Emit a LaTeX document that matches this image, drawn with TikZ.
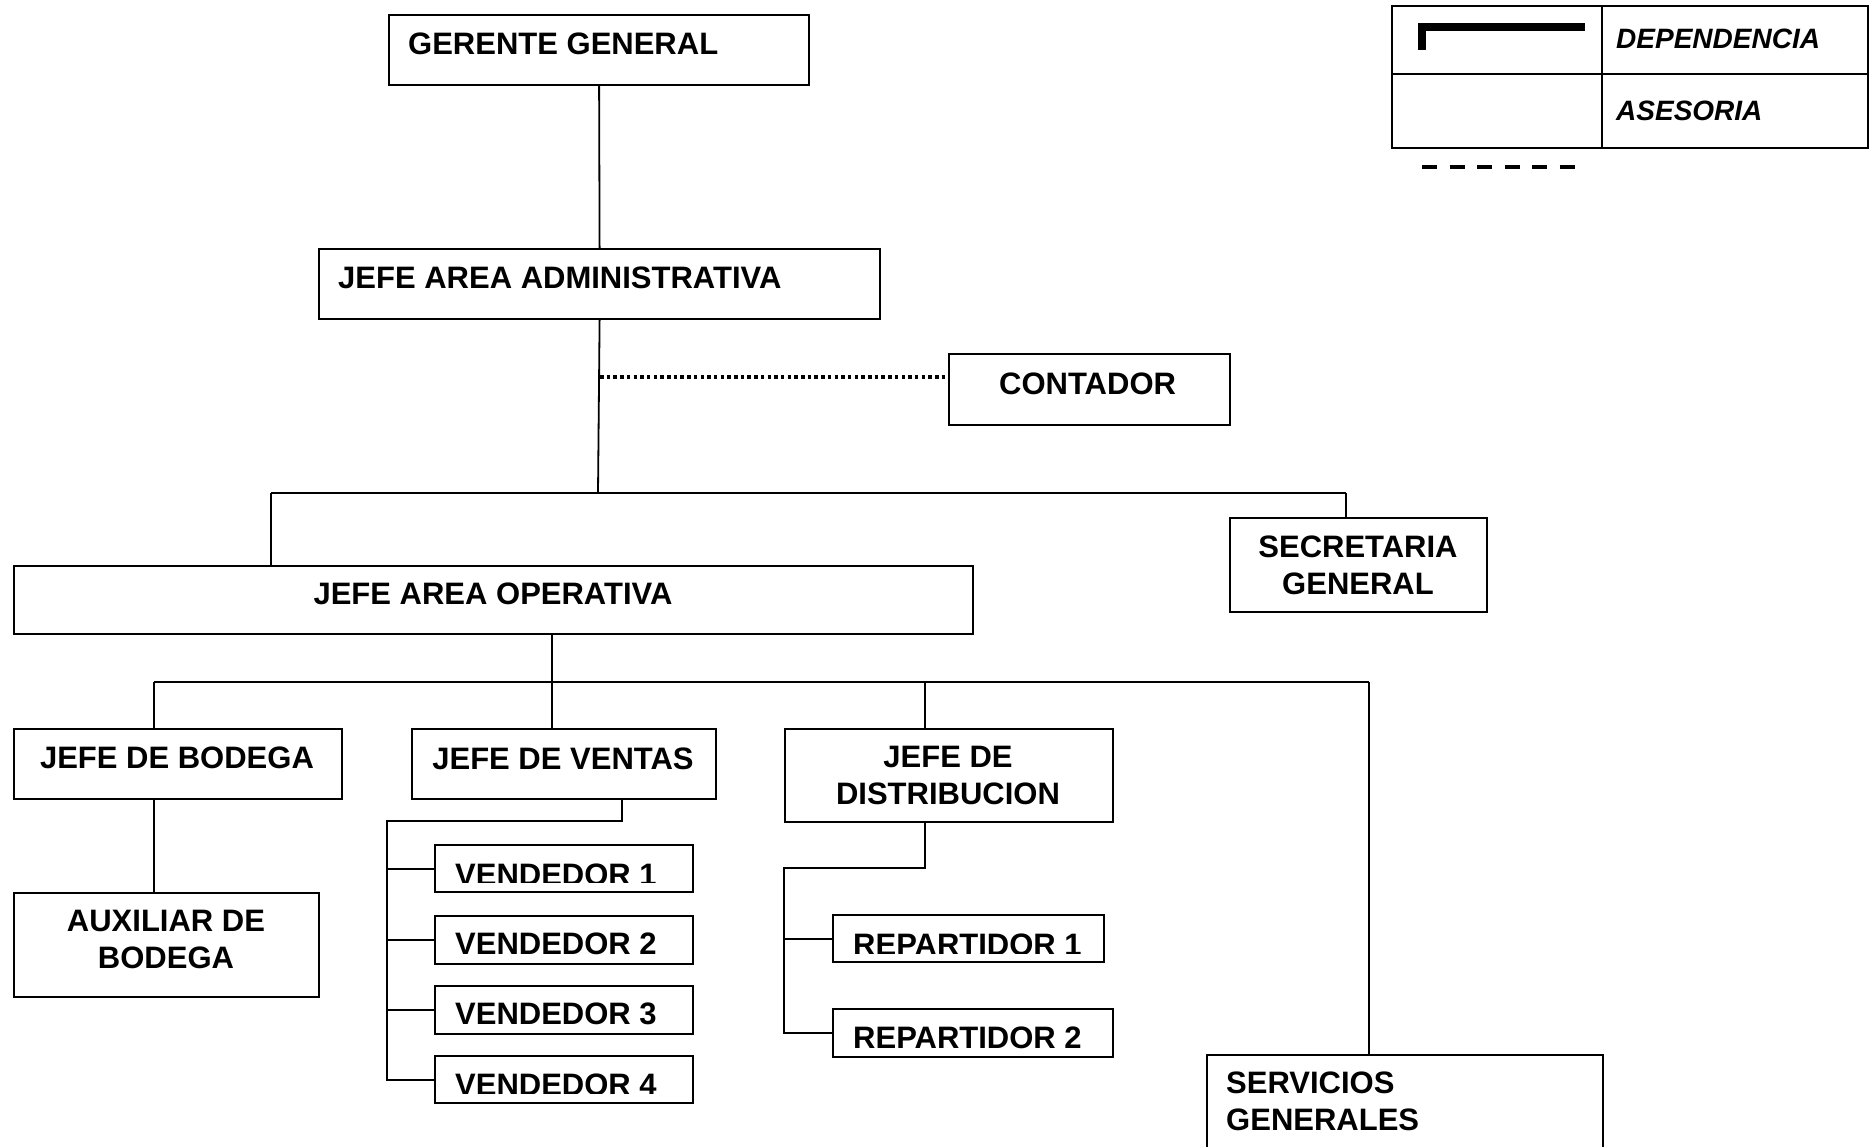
\documentclass[tikz,border=0pt]{standalone}
\usepackage{fontspec}
\setmainfont{Liberation Sans}
\begin{document}
\begin{tikzpicture}[x=1pt,y=-1pt,
  box/.style={draw, line width=2.2pt, inner sep=0pt, anchor=north west},
  lbl/.style={inner sep=0pt, font=\fontsize{31}{37}\selectfont\bfseries},
  leglbl/.style={inner sep=0pt, anchor=base west, font=\fontsize{28}{34}\selectfont\bfseries\itshape},
  conn/.style={line width=1.8pt},
  asesoria/.style={line width=3.5pt, dash pattern=on 3.5pt off 3.2pt}
]
\useasboundingbox (0,0) rectangle (1872,1147);
\fill[white] (0,0) rectangle (1872,1147);
\clip (0,0) rectangle (1872,1147);

% boxes
\node[box, minimum width=420pt, minimum height=70pt] (gg) at (388,14) {};
\node[box, minimum width=561pt, minimum height=70pt] (adm) at (318,248) {};
\node[box, minimum width=281pt, minimum height=71pt] (cont) at (948,353) {};
\node[box, minimum width=257pt, minimum height=94pt] (sec) at (1229,517) {};
\node[box, minimum width=959pt, minimum height=68pt] (op) at (13,565) {};
\node[box, minimum width=328pt, minimum height=70pt] (bod) at (13,728) {};
\node[box, minimum width=304pt, minimum height=70pt] (ven) at (411,728) {};
\node[box, minimum width=328pt, minimum height=93pt] (dis) at (784,728) {};
\node[box, minimum width=305pt, minimum height=104pt] (aux) at (13,892) {};
\node[box, minimum width=258pt, minimum height=47pt] (v1) at (434,844) {};
\node[box, minimum width=258pt, minimum height=48pt] (v2) at (434,915) {};
\node[box, minimum width=258pt, minimum height=48pt] (v3) at (434,985) {};
\node[box, minimum width=258pt, minimum height=47pt] (v4) at (434,1055) {};
\node[box, minimum width=271pt, minimum height=47pt] (r1) at (832,914) {};
\node[box, minimum width=280pt, minimum height=48pt] (r2) at (832,1008) {};
\node[box, minimum width=396pt, minimum height=110pt] (srv) at (1206,1054) {};

% texts
\node[lbl, anchor=base west] (gg-t) at (408,55) {GERENTE GENERAL};
\node[lbl, anchor=base west] (adm-t) at (338,289) {JEFE AREA ADMINISTRATIVA};
\node[lbl, anchor=base west] (cont-t) at (999,395) {CONTADOR};
\node[lbl, anchor=north, align=center] (sec-t) at (1358,536) {SECRETARIA\\GENERAL};
\node[lbl, anchor=base] (op-t) at (493,604) {JEFE AREA OPERATIVA};
\node[lbl, anchor=base] (bod-t) at (177,768) {JEFE DE BODEGA};
\node[lbl, anchor=base] (ven-t) at (563,769) {JEFE DE VENTAS};
\node[lbl, anchor=north, align=center] (dis-t) at (948,746) {JEFE DE\\DISTRIBUCION};
\node[lbl, anchor=north, align=center] (aux-t) at (166,910) {AUXILIAR DE\\BODEGA};
\begin{scope}
  \clip (v1.north west) rectangle ([yshift=11pt]v1.south east);
  \node[lbl, anchor=base west] (v1-t) at (455,885) {VENDEDOR 1};
\end{scope}
\node[lbl, anchor=base west] (v2-t) at (455,954) {VENDEDOR 2};
\node[lbl, anchor=base west] (v3-t) at (455,1024) {VENDEDOR 3};
\begin{scope}
  \clip (v4.north west) rectangle ([yshift=11pt]v4.south east);
  \node[lbl, anchor=base west] (v4-t) at (455,1095) {VENDEDOR 4};
\end{scope}
\begin{scope}
  \clip (r1.north west) rectangle ([yshift=10pt]r1.south east);
  \node[lbl, anchor=base west] (r1-t) at (853,955) {REPARTIDOR 1};
\end{scope}
\node[lbl, anchor=base west] (r2-t) at (853,1048) {REPARTIDOR 2};
\node[lbl, anchor=north west, align=left] (srv-t) at (1226,1072) {SERVICIOS\\GENERALES};

% connectors
\draw[conn] (gg.south) -- (adm.north);
\coordinate (b1) at (598,493);
\coordinate (b1l) at (271,493);
\coordinate (b1r) at (1346,493);
\draw[conn] (adm.south) -- (b1);
\draw[conn] (b1l) -- (b1r);
\draw[conn] (b1l) -- (b1l |- op.north);
\draw[conn] (b1r) -- (b1r |- sec.north);
\coordinate (dotS) at (600,377);
\draw[asesoria] (dotS) -- (dotS -| cont.west);

\coordinate (b2) at (552,682);
\coordinate (b2l) at (154,682);
\coordinate (b2d) at (925,682);
\coordinate (b2r) at (1369,682);
\draw[conn] (b2 |- op.south) -- (b2);
\draw[conn] (b2l) -- (b2r);
\draw[conn] (b2l) -- (b2l |- bod.north);
\draw[conn] (b2) -- (b2 |- ven.north);
\draw[conn] (b2d) -- (b2d |- dis.north);
\draw[conn] (b2r) -- (b2r |- srv.north);
\draw[conn] (b2l |- bod.south) -- (b2l |- aux.north);

\coordinate (vs) at (622,821);
\coordinate (vb) at (387,821);
\draw[conn] (vs |- ven.south) -- (vs) -- (vb) -- (vb |- v4.west) -- (v4.west);
\draw[conn] (vb |- v1.west) -- (v1.west);
\draw[conn] (vb |- v2.west) -- (v2.west);
\draw[conn] (vb |- v3.west) -- (v3.west);

\coordinate (ds) at (925,868);
\coordinate (db) at (784,868);
\draw[conn] (ds |- dis.south) -- (ds) -- (db) -- (db |- r2.west) -- (r2.west);
\draw[conn] (db |- r1.west) -- (r1.west);

% legend
\node[box, minimum width=476pt, minimum height=142pt] (leg) at (1391,5) {};
\draw[line width=2.2pt] (leg.west |- 0,74) -- (leg.east |- 0,74);
\draw[line width=2.2pt] (1602,0 |- leg.north) -- (1602,0 |- leg.south);
\fill (1418,23) rectangle (1585,31);
\fill (1418,23) rectangle (1426,50);
\node[leglbl] (dep-t) at (1616,49) {DEPENDENCIA};
\node[leglbl] (ase-t) at (1616,121) {ASESORIA};
\coordinate (ldA) at (1422,167);
\coordinate (ldB) at (1575,167);
\draw[line width=4pt, dash pattern=on 15pt off 12.5pt] (ldA) -- (ldB);
\end{tikzpicture}
\end{document}
